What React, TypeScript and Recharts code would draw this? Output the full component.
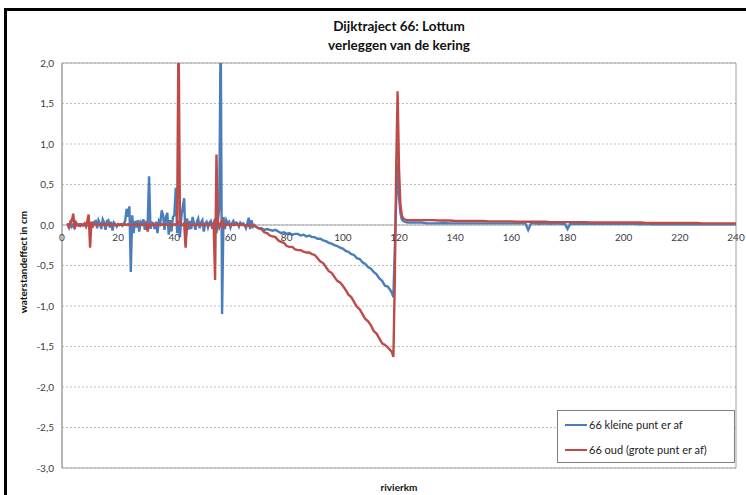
import React from 'react';
import {
  LineChart,
  Line,
  XAxis,
  YAxis,
  CartesianGrid,
  ReferenceLine,
  ReferenceArea,
  Legend,
} from 'recharts';

// ---------- text ----------
const TITLE_LINE_1 = 'Dijktraject 66: Lottum';
const TITLE_LINE_2 = 'verleggen van de kering';
const X_TITLE = 'rivierkm';
const Y_TITLE = 'waterstandeffect in cm';
const NAME_BLUE = '66 kleine punt er af';
const NAME_RED = '66 oud (grote punt er af)';

// ---------- ticks ----------
const X_TICKS = [0, 20, 40, 60, 80, 100, 120, 140, 160, 180, 200, 220, 240];
const Y_TICKS = [-3, -2.5, -2, -1.5, -1, -0.5, 0, 0.5, 1, 1.5, 2];

// ---------- data: river km ----------
const KM = [
  2, 2.5, 3, 3.5, 4, 4.5, 5, 5.5, 6, 6.5,
  7, 7.5, 8, 8.5, 9, 9.5, 10, 10.5, 11, 11.5,
  12, 12.5, 13, 13.5, 14, 14.5, 15, 15.5, 16, 16.5,
  17, 17.5, 18, 18.5, 19, 19.5, 20, 20.5, 21, 21.5,
  22, 22.5, 23, 23.5, 24, 24.5, 25, 25.5, 26, 26.5,
  27, 27.5, 28, 28.5, 29, 29.5, 30, 30.5, 31, 31.5,
  32, 32.5, 33, 33.5, 34, 34.5, 35, 35.5, 36, 36.5,
  37, 37.5, 38, 38.5, 39, 39.5, 40, 40.5, 41, 41.5,
  42, 42.5, 43, 43.5, 44, 44.5, 45, 45.5, 46, 46.5,
  47, 47.5, 48, 48.5, 49, 49.5, 50, 50.5, 51, 51.5,
  52, 52.5, 53, 53.5, 54, 54.5, 55, 55.5, 56, 56.5,
  57, 57.5, 58, 58.5, 59, 59.5, 60, 60.5, 61, 61.5,
  62, 62.5, 63, 63.5, 64, 64.5, 65, 65.5, 66, 66.5,
  67, 67.5, 68, 68.5, 69, 69.5, 70,
  71, 72, 73, 74, 75, 76, 77, 78, 79, 80,
  81, 82, 83, 84, 85, 86, 87, 88, 89, 90,
  91, 92, 93, 94, 95, 96, 97, 98, 99, 100,
  101, 102, 103, 104, 105, 106, 107, 108, 109, 110,
  111, 112, 113, 114, 115, 116, 117,
  117.5, 118, 118.5, 119, 119.5, 120, 120.5, 121, 121.5, 122, 123, 124, 125,
  126, 128, 130, 132, 134, 136, 138, 140, 142, 144,
  146, 148, 150, 152, 154, 156, 158, 160, 162, 164,
  165, 166, 167,
  168, 170, 172, 174, 176, 178,
  179, 180, 181,
  182, 184, 186, 188, 190, 192, 194, 196, 198, 200,
  202, 204, 206, 208, 210, 212, 214, 216, 218, 220,
  222, 224, 226, 228, 230, 232, 234, 236, 238, 240,
];

// ---------- data: 66 kleine punt er af (cm) ----------
const BLUE = [
  0.02, -0.03, 0.03, -0.02, 0.01, -0.03, 0.02, 0.0, -0.01, 0.01,
  0.0, -0.01, 0.01, 0.0, 0.02, -0.02, 0.01, 0.02, -0.01, 0.04,
  0.05, -0.04, 0.06, 0.02, -0.05, 0.07, 0.03, -0.06, 0.05, 0.06,
  -0.03, 0.04, -0.07, 0.03, 0.01, -0.02, 0.01, 0.0, 0.01, -0.01,
  0.02, 0.05, 0.2, 0.1, 0.23, -0.58, 0.12, -0.1, 0.05, -0.03,
  0.06, -0.08, 0.04, 0.02, 0.07, -0.06, 0.03, 0.01, 0.6, -0.05,
  0.03, 0.02, -0.05, 0.04, -0.1, 0.05, 0.02, 0.18, 0.12, -0.06,
  0.1, 0.15, -0.12, 0.06, -0.08, 0.1, 0.12, 0.46, -0.1, 0.05,
  -0.15, 0.1, 0.22, 0.33, -0.2, 0.08, -0.06, 0.05, -0.05, 0.1,
  0.02, -0.06, 0.04, 0.08, -0.04, 0.03, 0.06, -0.08, 0.02, 0.04,
  -0.03, 0.03, 0.05, -0.05, 0.02, 0.08, -0.1, 0.05, 0.2, 2.5,
  -1.1, 0.1, -0.05, 0.06, 0.02, 0.04, -0.03, 0.02, 0.05, 0.01,
  0.03, 0.02, -0.02, 0.03, 0.01, 0.02, 0.0, -0.04, 0.02, 0.09,
  -0.05, 0.06, -0.02, 0.0, -0.02, -0.03, -0.04,
  -0.04, -0.06, -0.05, -0.06, -0.07, -0.06, -0.08, -0.1, -0.09, -0.11,
  -0.1, -0.12, -0.11, -0.11, -0.13, -0.12, -0.14, -0.13, -0.15, -0.15,
  -0.17, -0.17, -0.19, -0.2, -0.22, -0.23, -0.25, -0.26, -0.28, -0.29,
  -0.32, -0.33, -0.36, -0.37, -0.41, -0.42, -0.46, -0.48, -0.52, -0.54,
  -0.58, -0.61, -0.66, -0.69, -0.75, -0.76, -0.81,
  -0.84, -0.89, -0.3, 0.3, 0.77, 0.35, 0.15, 0.07, 0.05, 0.04, 0.03, 0.03, 0.03,
  0.03, 0.03, 0.02, 0.02, 0.02, 0.025, 0.02, 0.02, 0.02, 0.02,
  0.02, 0.02, 0.02, 0.02, 0.02, 0.02, 0.02, 0.02, 0.02, 0.02,
  0.02, -0.06, 0.02,
  0.02, 0.015, 0.02, 0.015, 0.02, 0.015,
  0.015, -0.05, 0.015,
  0.015, 0.015, 0.015, 0.015, 0.015, 0.015, 0.015, 0.015, 0.015, 0.015,
  0.015, 0.015, 0.01, 0.015, 0.01, 0.01, 0.01, 0.01, 0.01, 0.01,
  0.01, 0.01, 0.01, 0.01, 0.01, 0.01, 0.01, 0.01, 0.01, 0.01,
];

// ---------- data: 66 oud (grote punt er af) (cm) ----------
const RED = [
  0.02, -0.04, 0.04, 0.05, 0.14, -0.05, 0.03, 0.0, 0.01, -0.01,
  0.01, 0.0, 0.02, -0.02, 0.05, 0.13, -0.28, 0.04, -0.01, 0.01,
  0.01, 0.0, 0.01, 0.0, 0.01, 0.01, 0.0, 0.01, 0.0, 0.01,
  0.0, 0.01, 0.0, 0.01, 0.0, 0.0, 0.01, 0.0, 0.01, 0.0,
  0.0, 0.01, 0.0, 0.01, 0.0, 0.0, 0.01, 0.0, 0.0, 0.01,
  0.0, 0.0, 0.01, 0.0, 0.0, 0.01, 0.02, -0.08, 0.01, 0.0,
  0.0, 0.01, 0.0, 0.0, 0.01, 0.0, 0.0, 0.01, 0.0, 0.0,
  0.01, 0.0, 0.0, 0.01, 0.0, 0.0, 0.01, 0.0, 0.02, 2.5,
  0.0, 0.01, 0.0, 0.02, -0.28, 0.01, 0.0, 0.01, 0.0, 0.0,
  0.01, 0.0, 0.0, 0.01, 0.0, 0.0, 0.01, 0.0, 0.0, 0.01,
  0.0, 0.0, 0.01, 0.0, 0.02, -0.68, 0.87, 0.05, -0.03, 0.02,
  0.05, -0.02, 0.01, 0.0, 0.01, 0.0, 0.0, 0.01, 0.0, 0.0,
  0.01, 0.0, 0.0, 0.01, 0.0, 0.0, 0.0, -0.01, 0.0, -0.01,
  0.0, -0.01, -0.01, -0.01, -0.02, -0.03, -0.04,
  -0.05, -0.09, -0.1, -0.13, -0.14, -0.15, -0.19, -0.21, -0.22, -0.26,
  -0.27, -0.27, -0.3, -0.31, -0.31, -0.33, -0.34, -0.34, -0.36, -0.37,
  -0.41, -0.45, -0.47, -0.52, -0.57, -0.59, -0.64, -0.69, -0.71, -0.75,
  -0.8, -0.86, -0.89, -0.95, -1.01, -1.04, -1.1, -1.16, -1.19, -1.24,
  -1.31, -1.34, -1.4, -1.46, -1.48, -1.51, -1.55,
  -1.57, -1.63, -0.7, 0.7, 1.65, 0.7, 0.25, 0.12, 0.08, 0.07, 0.06, 0.06, 0.06,
  0.06, 0.06, 0.06, 0.06, 0.055, 0.055, 0.055, 0.05, 0.05, 0.05,
  0.05, 0.05, 0.05, 0.045, 0.045, 0.045, 0.045, 0.045, 0.04, 0.04,
  0.04, 0.04, 0.04,
  0.04, 0.04, 0.04, 0.035, 0.035, 0.035,
  0.035, 0.035, 0.035,
  0.035, 0.035, 0.035, 0.03, 0.03, 0.03, 0.03, 0.03, 0.03, 0.03,
  0.03, 0.03, 0.03, 0.025, 0.025, 0.025, 0.025, 0.025, 0.025, 0.025,
  0.025, 0.025, 0.025, 0.02, 0.02, 0.02, 0.02, 0.02, 0.02, 0.02,
];

const COLOR_BLUE = '#4A7EBB';
const COLOR_RED = '#BE4B48';

const rows = KM.map((km, i) => ({ km, blue: BLUE[i], red: RED[i] }));

// ---------- layout ----------
const W = 746;
const H = 495;
const M_TOP = 63;
const M_RIGHT = 10;
const Y_AXIS_W = 62;
const X_AXIS_H = 27;
const Y_MIN = -3;
const Y_MAX = 2;
const PLOT_H = H - M_TOP - X_AXIS_H;
const ZERO_Y = M_TOP + (PLOT_H * (Y_MAX - 0)) / (Y_MAX - Y_MIN);
const FONT = 'Lato, "Open Sans", sans-serif';
const TEXT_COLOR = '#404040';
const LEGEND_W = 178;
const LEGEND_H = 53;

const fmtY = (v: number) => v.toFixed(1).replace('.', ',');

const XTick = (props: any) => {
  const { x, payload } = props;
  return (
    <text
      x={x}
      y={ZERO_Y + 16}
      textAnchor="middle"
      fontSize={10}
      fontFamily={FONT}
      fill={TEXT_COLOR}
    >
      {payload.value}
    </text>
  );
};

const LegendBox = (props: any) => {
  const payload = props.payload || [];
  return (
    <div
      style={{
        width: LEGEND_W,
        height: LEGEND_H,
        border: '1px solid #7f7f7f',
        background: '#fff',
        boxSizing: 'border-box',
        paddingTop: 1,
        fontFamily: FONT,
      }}
    >
      {payload.map((entry: any) => (
        <div
          key={entry.value}
          style={{ display: 'flex', alignItems: 'center', height: 25 }}
        >
          <span
            style={{
              display: 'inline-block',
              width: 22,
              height: 0,
              borderTop: `2.5px solid ${entry.color}`,
              marginLeft: 7,
              marginRight: 2,
            }}
          />
          <span style={{ fontSize: 11, color: '#222', whiteSpace: 'nowrap' }}>
            {entry.value}
          </span>
        </div>
      ))}
    </div>
  );
};

export default function App() {
  return (
    <div style={{ position: 'absolute', left: 0, top: 0, width: W, height: H, background: '#fff', overflow: 'hidden' }}>
      <div style={{ position: 'absolute', left: 0, top: 0 }}>
        <LineChart
          width={W}
          height={H}
          data={rows}
          margin={{ top: M_TOP, right: M_RIGHT, bottom: 0, left: 0 }}
        >
          <CartesianGrid
            horizontal
            vertical={false}
            stroke="#bfbfbf"
            strokeDasharray="2 2"
          />
          <ReferenceArea
            x1={0}
            x2={240}
            y1={Y_MIN}
            y2={Y_MAX}
            fill="none"
            fillOpacity={0}
            stroke="#a0a0a0"
            strokeWidth={1}
          />
          <XAxis
            dataKey="km"
            type="number"
            domain={[0, 240]}
            ticks={X_TICKS}
            interval={0}
            axisLine={false}
            tickLine={false}
            height={X_AXIS_H}
            tick={<XTick />}
          />
          <YAxis
            type="number"
            domain={[Y_MIN, Y_MAX]}
            ticks={Y_TICKS}
            interval={0}
            allowDataOverflow
            width={Y_AXIS_W}
            axisLine={{ stroke: '#a0a0a0' }}
            tickLine={false}
            tickFormatter={fmtY}
            tick={{ fontSize: 10, fill: TEXT_COLOR, fontFamily: FONT }}
          />
          <ReferenceLine y={0} stroke="#a0a0a0" strokeWidth={1} />
          <Line
            type="linear"
            dataKey="blue"
            name={NAME_BLUE}
            stroke={COLOR_BLUE}
            strokeWidth={2.4}
            dot={false}
            isAnimationActive={false}
          />
          <Line
            type="linear"
            dataKey="red"
            name={NAME_RED}
            stroke={COLOR_RED}
            strokeWidth={2.4}
            dot={false}
            isAnimationActive={false}
          />
          <Legend
            layout="horizontal"
            verticalAlign="middle"
            align="center"
            width={LEGEND_W}
            height={LEGEND_H}
            wrapperStyle={{ left: 557, top: 410, width: LEGEND_W, height: LEGEND_H }}
            content={<LegendBox />}
          />
        </LineChart>
      </div>

      {/* titles */}
      <div
        style={{
          position: 'absolute',
          left: 249,
          top: 17,
          width: 300,
          textAlign: 'center',
          fontFamily: FONT,
          fontWeight: 700,
          fontSize: 13.5,
          lineHeight: '19px',
          color: '#111',
        }}
      >
        <div>{TITLE_LINE_1}</div>
        <div>{TITLE_LINE_2}</div>
      </div>
      <div
        style={{
          position: 'absolute',
          left: 349,
          top: 480,
          width: 100,
          textAlign: 'center',
          fontFamily: FONT,
          fontWeight: 700,
          fontSize: 10,
          lineHeight: '14px',
          color: '#111',
        }}
      >
        {X_TITLE}
      </div>
      <div
        style={{
          position: 'absolute',
          left: 23 - 70,
          top: 262 - 7,
          width: 140,
          height: 14,
          textAlign: 'center',
          fontFamily: FONT,
          fontWeight: 700,
          fontSize: 10,
          lineHeight: '14px',
          color: '#111',
          transform: 'rotate(-90deg)',
          whiteSpace: 'nowrap',
        }}
      >
        {Y_TITLE}
      </div>

      {/* outer chart frame (top and left edges visible) */}
      <div
        style={{
          position: 'absolute',
          left: 4,
          top: 8,
          width: W,
          height: H,
          borderTop: '3px solid #000',
          borderLeft: '3px solid #000',
          pointerEvents: 'none',
        }}
      />
    </div>
  );
}
